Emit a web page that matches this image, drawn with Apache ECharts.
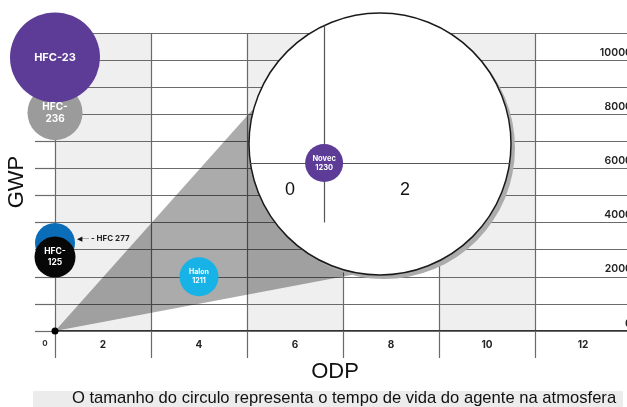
<!DOCTYPE html>
<html><head><meta charset="utf-8">
<script src="https://cdn.jsdelivr.net/npm/echarts@6/dist/echarts.min.js"></script>
<style>html,body{margin:0;padding:0;background:#fff}#c{width:627px;height:407px}</style>
</head><body><div id="c"></div>
<script>
// ---- data ----
const agents      = ['HFC-236', 'HFC-23', 'HFC-227', 'HFC-125', 'Halon 1211'];
const agentLabels = ['HFC-\n236', 'HFC-23', 'HFC 277', 'HFC-\n125', 'Halon\n1211'];
const odp         = [0, 0, 0, 0, 3];
const gwp         = [8060, 10100, 3250, 2730, 2000];
const lifetimeRel = [55, 90, 40, 41, 39];   // relative atmospheric lifetime (circle size)
const xTickLabels = ['0', '2', '4', '6', '8', '10', '12'];
const yTickLabels = ['0', '2000', '4000', '6000', '8000', '10000'];
const zoomAgents  = ['Novec 1230'];
const zoomLabels  = ['Novec\n1230'];
const zoomOdp     = [0];
const zoomGwp     = [0];
const zoomTickLabels = ['0', '2'];
const caption = 'O tamanho do circulo representa o tempo de vida do agente na atmosfera';

// ---- styles ----
const agentColors = ['#9b9b9b', '#5c3c96', '#0b6cb8', '#070707', '#18b3e6'];
const agentFont   = [10, 11, 8, 8.5, 7];
const gridLine = { color: '#6a6a6a', width: 1.2 };
const FONT = 'Inter';

const chart = echarts.init(document.getElementById('c'), null, { renderer: 'canvas' });

const mainData = agents.map((n, i) => {
  const d = {
    name: n,
    value: [odp[i], gwp[i]],
    symbolSize: lifetimeRel[i],
    itemStyle: { color: agentColors[i], opacity: 1 },
    label: {
      show: true, position: 'inside', formatter: agentLabels[i],
      color: '#fff', fontFamily: FONT, fontWeight: 700, fontSize: agentFont[i], lineHeight: agentFont[i] + 2
    }
  };
  if (n === 'HFC-227') {
    d.label = {
      show: true, position: 'right', distance: 2, offset: [0, -4],
      formatter: '{a|◀}{l|──}{t| - ' + agentLabels[i] + '}',
      rich: {
        a: { fontSize: 7, color: '#111' },
        l: { fontSize: 5, color: '#333' },
        t: { fontSize: 8, fontWeight: 700, color: '#222', fontFamily: FONT }
      }
    };
  }
  return d;
});

const zoomData = zoomAgents.map((n, i) => ({
  name: n, value: [zoomOdp[i], zoomGwp[i]], symbolSize: 38,
  itemStyle: { color: '#5c3c96', opacity: 1 },
  label: { show: true, position: 'inside', formatter: zoomLabels[i], color: '#fff',
           fontFamily: FONT, fontWeight: 700, fontSize: 7.5, lineHeight: 9 }
}));

const option = {
  animation: false,
  backgroundColor: '#fff',
  grid: [
    { left: 55, top: 33, width: 576, height: 298, containLabel: false, outerBoundsMode: 'none' },
    { left: 250, top: 26, width: 260, height: 196, containLabel: false, outerBoundsMode: 'none' }
  ],
  xAxis: [
    {
      gridIndex: 0, type: 'value', min: 0, max: 12, interval: 2, z: 0,
      name: 'ODP', nameLocation: 'middle', nameGap: 30,
      nameTextStyle: { fontFamily: 'Liberation Sans', fontSize: 22, color: '#111', padding: [0, 16, 0, 0] },
      axisLine: { show: true, onZero: false, lineStyle: { color: '#333', width: 2 } },
      axisTick: { show: true, length: 27, lineStyle: gridLine },
      splitLine: { show: true, lineStyle: gridLine },
      splitArea: { show: true, areaStyle: { color: ['#efefef', '#ffffff'] } },
      axisLabel: {
        show: true, margin: 9, showMinLabel: true, showMaxLabel: true, hideOverlap: false,
        fontFamily: FONT, fontWeight: 700, fontSize: 10, color: '#222',
        formatter: v => {
          const idx = Math.round(v / 2);
          const s = xTickLabels[idx];
          if (s === undefined) return '';
          return v === 0 ? '{z|' + s + '}' : '{b|' + s + '}';
        },
        rich: {
          z: { padding: [0, 20, 0, 0], fontSize: 8, fontWeight: 700, fontFamily: FONT, color: '#333' },
          b: { padding: [0, 96, 0, 0], fontSize: 10, fontWeight: 700, fontFamily: FONT, color: '#222' }
        }
      }
    },
    {
      gridIndex: 1, type: 'value', min: -1.83, max: 4.59, z: 6,
      axisLine: { show: true, onZero: true, lineStyle: { color: '#555', width: 1.2 } },
      axisTick: { show: false }, splitLine: { show: false }, splitArea: { show: false },
      axisLabel: {
        show: true, margin: -41, hideOverlap: false,
        formatter: v => {
          if (Math.abs(v) < 1e-9) return '{z|' + zoomTickLabels[0] + '}';
          if (Math.abs(v - 2) < 1e-9) return '{b|' + zoomTickLabels[1] + '}';
          return '';
        },
        rich: {
          z: { padding: [0, 68, 0, 0], fontSize: 18, fontFamily: 'Liberation Sans', color: '#111' },
          b: { fontSize: 18, fontFamily: 'Liberation Sans', color: '#111' }
        }
      }
    }
  ],
  yAxis: [
    {
      gridIndex: 0, type: 'value', min: 0, max: 11000, interval: 1000, position: 'left', z: 1,
      name: 'GWP', nameLocation: 'middle', nameGap: 27, nameRotate: 90,
      nameTextStyle: { fontFamily: 'Liberation Sans', fontSize: 22, color: '#111' },
      axisLine: { show: false },
      axisTick: { show: true, length: 20, lineStyle: gridLine },
      splitLine: { show: true, lineStyle: gridLine },
      axisLabel: { show: false }
    },
    {
      gridIndex: 0, type: 'value', min: 0, max: 11000, interval: 1000, position: 'right', z: 1,
      axisLine: { show: false }, axisTick: { show: false }, splitLine: { show: false },
      axisLabel: {
        show: true, inside: true, margin: -1, verticalAlign: 'bottom', hideOverlap: false,
        showMinLabel: true, showMaxLabel: true,
        fontFamily: FONT, fontWeight: 600, fontSize: 10.5, color: '#222', padding: [0, 0, 2, 0],
        formatter: v => {
          const s = String(v);
          return yTickLabels.indexOf(s) >= 0 ? s : '';
        }
      }
    },
    {
      gridIndex: 1, type: 'value', min: -1, max: 2.32, z: 6,
      axisLine: { show: true, onZero: true, lineStyle: { color: '#555', width: 1.2 } },
      axisTick: { show: false }, splitLine: { show: false }, axisLabel: { show: false }
    }
  ],
  series: [
    { type: 'scatter', xAxisIndex: 0, yAxisIndex: 0, z: 10, data: mainData, clip: false },
    { type: 'scatter', xAxisIndex: 0, yAxisIndex: 0, z: 11, data: [[odp[0], 0]], symbolSize: 7,
      itemStyle: { color: '#000', opacity: 1 }, clip: false },
    { type: 'scatter', xAxisIndex: 1, yAxisIndex: 2, z: 10, data: zoomData, clip: false }
  ]
};
chart.setOption(option);

// magnifier decoration: cone from origin and the lens
const o = chart.convertToPixel({ gridIndex: 0 }, [0, 0]);
const cx = 380, cy = 144, r = 131;
chart.setOption({
  graphic: [
    { type: 'polygon', z: 2, silent: true,
      shape: { points: [[o[0], o[1]], [288, 70], [399, 266]] },
      style: { fill: 'rgba(0,0,0,0.33)' } },
    { type: 'circle', z: 3, silent: true, shape: { cx: cx + 4, cy: cy + 4, r: r },
      style: { fill: '#acacac' } },
    { type: 'circle', z: 4, silent: true, shape: { cx: cx, cy: cy, r: r },
      style: { fill: '#ffffff', stroke: '#1a1a1a', lineWidth: 1.5 } },
    { type: 'rect', z: 1, silent: true, shape: { x: 33, y: 391, width: 590, height: 16 },
      style: { fill: '#ececec' } },
    { type: 'text', z: 2, silent: true, x: 344, y: 398,
      style: { text: caption, fontFamily: 'Liberation Sans', fontSize: 16.6, fill: '#111',
               align: 'center', verticalAlign: 'middle' } }
  ]
});
</script></body></html>
